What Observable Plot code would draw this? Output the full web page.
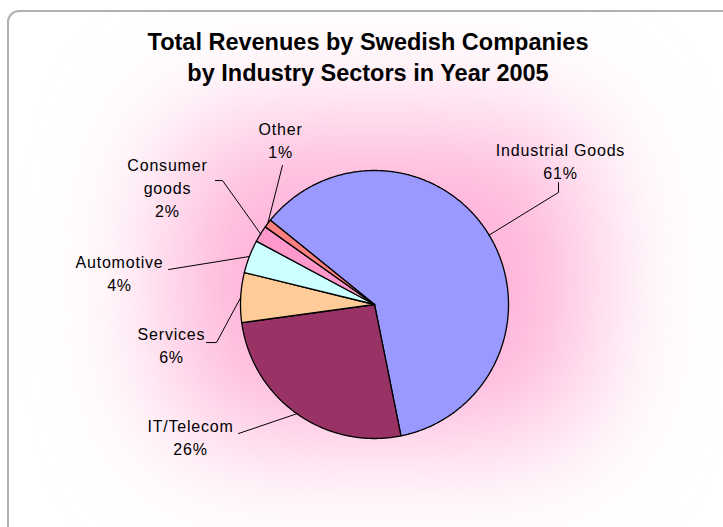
<!DOCTYPE html>
<html><head><meta charset="utf-8">
<script src="https://cdn.jsdelivr.net/npm/d3@7"></script>
<script src="https://cdn.jsdelivr.net/npm/@observablehq/plot@0.6"></script>
<style>
body{margin:0;background:#fff;}
#wrap{position:relative;width:723px;height:527px;overflow:hidden;font-family:"Liberation Sans",Arial,sans-serif;}
#frame{position:absolute;left:7px;top:10px;width:740px;height:540px;border:2px solid #b0b0b0;border-radius:12px;background:#fff;overflow:hidden;}
#glow{position:absolute;left:161px;top:113px;width:417px;height:312px;background:#ffb0d8;border-radius:60px;filter:blur(62px);}
#title{position:absolute;left:0;top:27px;width:736px;text-align:center;font-weight:bold;font-size:23.5px;line-height:31px;color:#000;}
#chart{position:absolute;left:0;top:0;}
</style></head>
<body><div id="wrap"><div id="frame"><div id="glow"></div></div><div id="title">Total Revenues by Swedish Companies<br>by Industry Sectors in Year 2005</div><div id="chart"></div></div>
<script>
// ---- data ----
const sectors = ["Industrial Goods", "IT/Telecom", "Services", "Automotive", "Consumer goods", "Other"];
const shares = [61, 26, 6, 4, 2, 1];
const pctLabels = ["61%", "26%", "6%", "4%", "2%", "1%"];
const nameLines = [["Industrial Goods"], ["IT/Telecom"], ["Services"], ["Automotive"], ["Consumer", "goods"], ["Other"]];
const sliceColors = ["#9999ff", "#993366", "#ffcc99", "#ccffff", "#ff99cc", "#ff8080"];

// ---- layout (in pie-radius units, y up) ----
const startDeg = -51;
const labelPos = [[1.388, 1.149], [-1.373, -0.918], [-1.515, -0.231], [-1.903, 0.313], [-1.545, 1.037], [-0.701, 1.299]];
const leaderBends = [
  [[1.373, 0.836], [1.373, 0.910]],
  [[-1.015, -0.963]],
  [[-1.179, -0.284], [-1.254, -0.284]],
  [[-1.537, 0.261]],
  [[-1.134, 0.925], [-1.187, 0.925]],
  [[-0.687, 1.037]]
];

const a0 = startDeg * Math.PI / 180;
const arcs = d3.pie().sort(null).startAngle(a0).endAngle(a0 + 2 * Math.PI)(shares);

const slicePts = [];
const leaderPts = [];
const labelData = [];
arcs.forEach((a, i) => {
  const k = sectors[i];
  slicePts.push({k, u: 0, v: 0});
  const n = Math.max(2, Math.ceil((a.endAngle - a.startAngle) / (Math.PI / 360)));
  for (let j = 0; j <= n; j++) {
    const t = a.startAngle + (a.endAngle - a.startAngle) * j / n;
    slicePts.push({k, u: Math.sin(t), v: Math.cos(t)});
  }
  const mid = (a.startAngle + a.endAngle) / 2;
  leaderPts.push({k, u: Math.sin(mid), v: Math.cos(mid)});
  leaderBends[i].forEach(([u, v]) => leaderPts.push({k, u, v}));
  labelData.push({t: [...nameLines[i], pctLabels[i]].join("\n"), u: labelPos[i][0], v: labelPos[i][1]});
});

const R = 134, cx = 374, cy = 304, W = 723, H = 527;
const chart = Plot.plot({
  width: W, height: H, margin: 0,
  x: {domain: [-cx / R, (W - cx) / R], axis: null},
  y: {domain: [-(H - cy) / R, cy / R], axis: null},
  color: {domain: sectors, range: sliceColors},
  style: {background: "transparent", overflow: "visible", letterSpacing: "0.8px", fontFamily: "'Liberation Sans', Arial, sans-serif"},
  marks: [
    Plot.line(slicePts, {x: "u", y: "v", z: "k", fill: "k", stroke: "#000", strokeWidth: 1.3, curve: "linear-closed"}),
    Plot.line(leaderPts, {x: "u", y: "v", z: "k", stroke: "#000", strokeWidth: 1}),
    Plot.text(labelData, {x: "u", y: "v", text: "t", lineAnchor: "top", dy: -11.36, fontSize: 16, lineHeight: 1.4375, fill: "#000"})
  ]
});
document.getElementById("chart").appendChild(chart);
</script>
</body></html>
